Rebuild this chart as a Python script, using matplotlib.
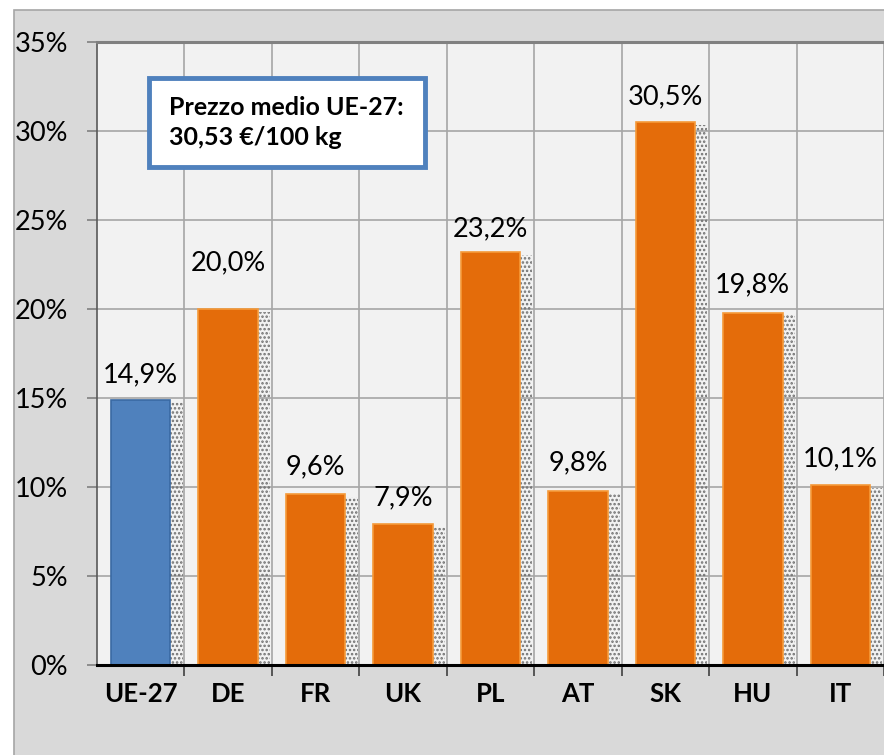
import matplotlib
matplotlib.use("Agg")
import matplotlib.pyplot as plt
from matplotlib.patches import Rectangle
from matplotlib.ticker import FixedLocator, PercentFormatter
import numpy as np

plt.rcParams['font.family'] = ['Lato', 'DejaVu Sans']
plt.rcParams['hatch.linewidth'] = 1.2

# data
countries = ["UE-27", "DE", "FR", "UK", "PL", "AT", "SK", "HU", "IT"]
values = [14.9, 20.0, 9.6, 7.9, 23.2, 9.8, 30.5, 19.8, 10.1]
bar_colors = ["#4F81BD"] + ["#E46C0A"] * 8
edge_colors = ["#3A6AA3"] + ["#F59A3A"] * 8
note = "Prezzo medio UE-27:\n30,53 €/100 kg"
# label gap above each bar, in points (DE label sits higher in the original)
label_gap = [9, 24, 11, 10, 8, 11, 9, 11, 10]

W, H = 884, 755
fig = plt.figure(figsize=(W / 100, H / 100), dpi=100)
fig.patch.set_facecolor("white")

# grey chart area behind the plot
bg = Rectangle((14 / W, -0.01), 1.0, 1 - 10 / H + 0.01,
               transform=fig.transFigure, facecolor="#D9D9D9",
               edgecolor="#A6A6A6", linewidth=1.2, zorder=-5)
fig.add_artist(bg)

ax = fig.add_axes([97 / W, 1 - 665 / H, (W - 97) / W, (665 - 42) / H])
ax.set_facecolor("#F2F2F2")

x = np.arange(len(countries))
bw = 0.68

# dotted shadow to the right of every bar
ax.bar(x + bw / 2, np.array(values) - 0.15, width=0.14, align="edge",
       facecolor="none", edgecolor="#6F6F6F", hatch="....", linewidth=0, zorder=2)
ax.bar(x, values, width=bw, color=bar_colors, edgecolor=edge_colors,
       linewidth=1.2, zorder=3)

for xi, v, g in zip(x, values, label_gap):
    ax.annotate(f"{v:.1f}%".replace(".", ","), (xi, v), xytext=(0, g),
                textcoords="offset points", ha="center", va="bottom",
                fontsize=19.5, color="#000000")

ax.set_xlim(-0.5, -0.5 + (W - 97) / 87.6)
ax.set_ylim(0, 35)

ax.yaxis.set_major_locator(FixedLocator(np.arange(0, 36, 5)))
ax.yaxis.set_major_formatter(PercentFormatter(decimals=0))
ax.tick_params(axis="y", labelsize=19.5, length=7, width=1.2, color="#7F7F7F",
               pad=14)

ax.set_xticks(x)
ax.set_xticklabels(countries, fontsize=18.5, fontweight="bold")
ax.set_xticks(np.arange(len(countries)) + 0.5, minor=True)
ax.tick_params(axis="x", which="major", length=0, pad=12)
ax.tick_params(axis="x", which="minor", length=8, width=1.2, color="#404040")

ax.grid(axis="y", color="#A6A6A6", linewidth=1.2, zorder=1)
ax.grid(axis="x", which="minor", color="#A6A6A6", linewidth=1.2, zorder=1)
ax.set_axisbelow(True)

ax.spines["bottom"].set_color("#000000")
ax.spines["bottom"].set_linewidth(2.2)
ax.spines["bottom"].set_zorder(5)
ax.spines["left"].set_color("#595959")
ax.spines["left"].set_linewidth(1.2)
ax.spines["top"].set_color("#808080")
ax.spines["top"].set_linewidth(2.2)
ax.spines["right"].set_visible(False)

# note box
ax.add_patch(Rectangle((0.066, 0.799), 0.351, 0.143, transform=ax.transAxes,
                       facecolor="white", edgecolor="#4F81BD", linewidth=3.5,
                       zorder=6))
ax.text(0.0915, 0.8705, note, transform=ax.transAxes, fontsize=18,
        fontweight="bold", va="center", ha="left", linespacing=1.4, zorder=7)

fig.savefig("out.png", dpi=100)
